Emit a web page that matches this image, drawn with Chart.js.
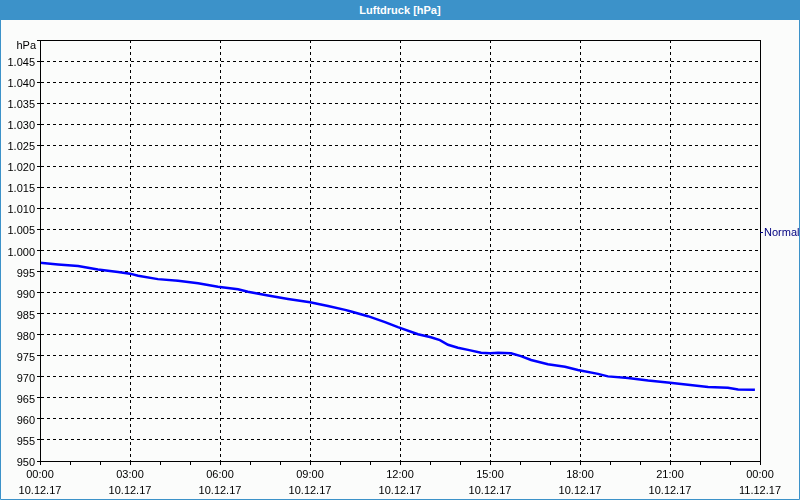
<!DOCTYPE html>
<html>
<head>
<meta charset="utf-8">
<script src="https://cdn.jsdelivr.net/npm/chart.js@4/dist/chart.umd.min.js"></script>
<style>
  html, body { margin: 0; padding: 0; background: #fbfcfb; }
  #wrap { position: relative; width: 800px; height: 500px; overflow: hidden; }
  #title {
    position: absolute; left: 0; top: 0; width: 800px; height: 20px;
    background: #3c92c9; color: #ffffff; text-align: center;
    font: bold 11px "Liberation Sans", Arial, sans-serif; line-height: 20px;
  }
  #c { position: absolute; left: 0; top: 20px; }
</style>
</head>
<body>
<div id="wrap">
  <div id="title">Luftdruck [hPa]</div>
  <canvas id="c" width="800" height="480"></canvas>
</div>
<script>
// ---- data (hours since 10.12.17 00:00, pressure in hPa) ----
const hours = [0.00, 0.60, 1.27, 1.60, 1.93, 2.60, 3.00, 3.27, 3.93, 4.60, 5.27, 5.93,
  6.60, 6.93, 7.60, 8.27, 9.00, 9.60, 10.17, 10.37, 10.93, 11.50, 11.93,
  12.60, 13.03, 13.33, 13.60, 13.93, 14.27, 14.70, 15.00, 15.27, 15.70,
  16.03, 16.37, 16.93, 17.50, 17.93, 18.60, 18.93, 19.60, 20.27, 21.00,
  21.60, 22.27, 22.93, 23.27, 23.83];
const pressure = [997.1, 996.7, 996.3, 995.9, 995.5, 994.9, 994.5, 994.0, 993.2, 992.8, 992.2, 991.4,
  990.8, 990.2, 989.3, 988.5, 987.7, 986.8, 985.9, 985.5, 984.4, 983.0, 981.8,
  980.1, 979.4, 978.7, 977.6, 976.9, 976.4, 975.7, 975.6, 975.7, 975.6,
  974.9, 974.0, 973.0, 972.4, 971.6, 970.7, 970.1, 969.7, 969.1, 968.6,
  968.1, 967.6, 967.4, 967.0, 966.9];
const xTickTimes = ['00:00', '03:00', '06:00', '09:00', '12:00', '15:00', '18:00', '21:00', '00:00'];
const xTickDates = ['10.12.17', '10.12.17', '10.12.17', '10.12.17', '10.12.17', '10.12.17', '10.12.17', '10.12.17', '11.12.17'];
const yUnitLabel = 'hPa';
const normalLabel = 'Normal';
const normalValue = 1004.3;
const yMin = 950, yMax = 1050, yStep = 5;

const FONT = '"Liberation Sans", Arial, sans-serif';

function fmtDE(v) {
  if (v >= 1000) {
    const r = Math.round(v - 1000);
    return '1.' + String(r).padStart(3, '0');
  }
  return String(v);
}

const decorPlugin = {
  id: 'decor',
  beforeDraw(chart) {
    const ctx = chart.ctx;
    ctx.save();
    ctx.fillStyle = '#fbfcfb';
    ctx.fillRect(0, 0, chart.width, chart.height);
    ctx.restore();
  },
  afterDraw(chart) {
    const ctx = chart.ctx;
    const a = chart.chartArea;
    const ys = chart.scales.y;
    ctx.save();
    // plot frame
    ctx.strokeStyle = '#000000';
    ctx.lineWidth = 1;
    ctx.setLineDash([]);
    ctx.strokeRect(Math.round(a.left) + 0.5, Math.round(a.top) + 0.5,
      Math.round(a.right - a.left), Math.round(a.bottom - a.top));
    // unit label at top of y axis
    ctx.fillStyle = '#000000';
    ctx.font = '11px ' + FONT;
    ctx.textAlign = 'right';
    ctx.textBaseline = 'middle';
    ctx.fillText(yUnitLabel, a.left - 4, a.top + 6);
    // normal marker
    const ny = Math.round(ys.getPixelForValue(normalValue)) + 0.5;
    ctx.strokeStyle = '#000080';
    ctx.beginPath();
    ctx.moveTo(a.right, ny);
    ctx.lineTo(a.right + 3, ny);
    ctx.stroke();
    ctx.fillStyle = '#000080';
    ctx.textAlign = 'left';
    ctx.fillText(normalLabel, a.right + 4, ny);
    // outer blue border
    ctx.strokeStyle = '#3c92c9';
    ctx.beginPath();
    ctx.moveTo(0.5, 0);
    ctx.lineTo(0.5, chart.height - 0.5);
    ctx.lineTo(chart.width - 0.5, chart.height - 0.5);
    ctx.lineTo(chart.width - 0.5, 0);
    ctx.stroke();
    ctx.restore();
  }
};

new Chart(document.getElementById('c'), {
  type: 'line',
  data: {
    datasets: [{
      data: hours.map((h, i) => ({ x: h, y: pressure[i] })),
      borderColor: '#0000ff',
      borderWidth: 2.5,
      pointRadius: 0,
      tension: 0,
      fill: false
    }]
  },
  options: {
    responsive: false,
    animation: false,
    devicePixelRatio: 1,
    layout: { padding: { top: 20, left: 0, right: 40, bottom: 0 } },
    plugins: { legend: { display: false }, title: { display: false }, tooltip: { enabled: false } },
    scales: {
      x: {
        type: 'linear',
        min: 0, max: 24,
        afterFit(scale) { scale.height = 39; },
        border: { display: true, color: '#000000', width: 1, dash: [3, 3] },
        grid: {
          color: (c) => (c.tick && c.tick.value % 3 === 0 && c.tick.value > 0 && c.tick.value < 24) ? '#000000' : 'rgba(0,0,0,0)',
          tickColor: '#000000',
          tickLength: 4,
          tickBorderDash: [],
          lineWidth: 1
        },
        ticks: {
          stepSize: 1,
          autoSkip: false,
          maxRotation: 0,
          padding: 2,
          color: '#000000',
          font: { family: FONT, size: 11, lineHeight: 1.45 },
          callback: (v) => (v % 3 === 0) ? [xTickTimes[v / 3], xTickDates[v / 3]] : ''
        }
      },
      y: {
        min: yMin, max: yMax,
        afterFit(scale) { scale.width = 40; },
        border: { display: true, color: '#000000', width: 1, dash: [3, 3] },
        grid: {
          color: (c) => (c.tick && c.tick.value > yMin && c.tick.value < yMax) ? '#000000' : 'rgba(0,0,0,0)',
          tickColor: '#000000',
          tickLength: 3,
          tickBorderDash: [],
          lineWidth: 1
        },
        ticks: {
          stepSize: yStep,
          autoSkip: false,
          padding: 2,
          labelOffset: 2,
          color: '#000000',
          font: { family: FONT, size: 11 },
          callback: (v) => (v >= yMax) ? '' : fmtDE(v)
        }
      }
    }
  },
  plugins: [decorPlugin]
});
</script>
</body>
</html>
